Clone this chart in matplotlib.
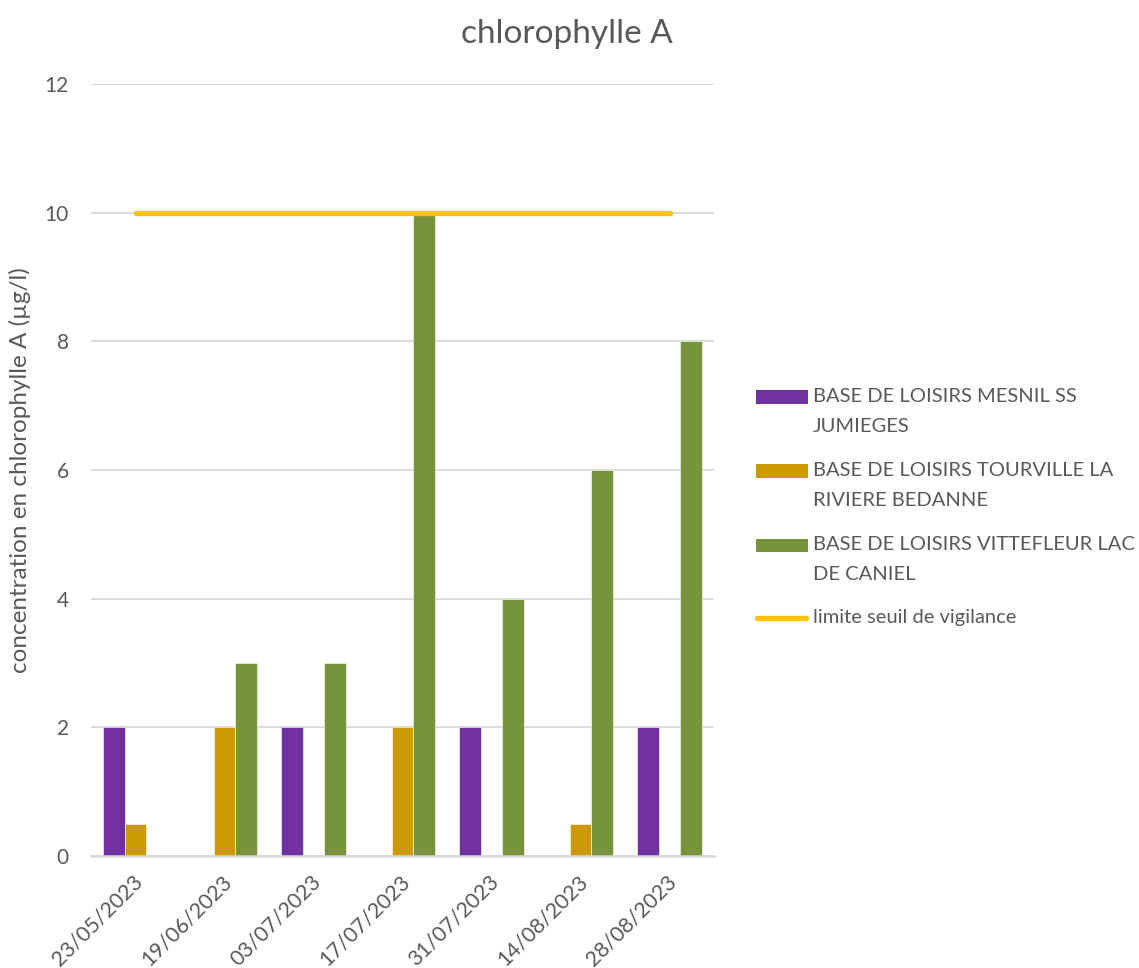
import numpy as np
import matplotlib
matplotlib.use("Agg")
from matplotlib import pyplot as plt
from matplotlib.lines import Line2D
from matplotlib.patches import Rectangle
from matplotlib.transforms import ScaledTranslation

plt.rcParams['font.family'] = ['Lato', 'DejaVu Sans']

# Sampling dates and chlorophyll A results (µg/l)
dates = ['23/05/2023', '19/06/2023', '03/07/2023', '17/07/2023',
         '31/07/2023', '14/08/2023', '28/08/2023']
mesnil = [2, 0, 2, 0, 2, 0, 2]
tourville = [0.5, 2, 0, 2, 0, 0.5, 0]
vittefleur = [0, 3, 3, 10, 4, 6, 8]
seuil = [10, 10, 10, 10, 10, 10, 10]

series_names = ['BASE DE LOISIRS MESNIL SS JUMIEGES',
                'BASE DE LOISIRS TOURVILLE LA RIVIERE BEDANNE',
                'BASE DE LOISIRS VITTEFLEUR LAC DE CANIEL']
legend_lines = [['BASE DE LOISIRS MESNIL SS', 'JUMIEGES'],
                ['BASE DE LOISIRS TOURVILLE LA', 'RIVIERE BEDANNE'],
                ['BASE DE LOISIRS VITTEFLEUR LAC', 'DE CANIEL'],
                ['limite seuil de vigilance']]
colors = ['#7030A0', '#CC9900', '#77933C']
line_color = '#FFC000'
text_color = '#595959'
grid_color = '#D9D9D9'

W, H = 1139, 968
fig = plt.figure(figsize=(W / 100, H / 100), dpi=100)
ax = fig.add_axes([0.0799, 0.1157, 0.547, 0.7975])

x = np.arange(len(dates))
w = 0.245
for j, vals in enumerate([mesnil, tourville, vittefleur]):
    ax.bar(x + (j - 1) * w, vals, width=w, color=colors[j],
           edgecolor='white', linewidth=0.4, zorder=3, label=series_names[j])

ax.plot(x, seuil, color=line_color, linewidth=3.8,
        solid_capstyle='round', zorder=4)

ax.set_xlim(-0.5, len(dates) - 0.5)
ax.set_ylim(0, 12)
ax.set_yticks(np.arange(0, 13, 2))
ax.yaxis.grid(True, color=grid_color, linewidth=1.3, zorder=0)
ax.set_axisbelow(True)

for s in ['top', 'right', 'left']:
    ax.spines[s].set_visible(False)
ax.spines['bottom'].set_color(grid_color)
ax.spines['bottom'].set_linewidth(1.8)
ax.spines['bottom'].set_zorder(5)

ax.set_xticks(x)
ax.set_xticklabels(dates, rotation=45, ha='right', rotation_mode='anchor')
ax.tick_params(axis='x', length=0, pad=11, labelsize=15.5, labelcolor=text_color)
ax.tick_params(axis='y', length=0, pad=16, labelsize=15, labelcolor=text_color)
shift = ScaledTranslation(-0.03, 0, fig.dpi_scale_trans)
for lab in ax.get_xticklabels():
    lab.set_transform(lab.get_transform() + shift)

ax.set_ylabel('concentration en chlorophylle A (µg/l)', fontsize=17.5,
              color=text_color, labelpad=10)
fig.text(0.498, 0.965, 'chlorophylle A', fontsize=24, color=text_color,
         ha='center', va='center')

# legend drawn by hand: swatch beside the first line of each entry
def fy(py):
    return 1 - py / H

entry_y = [397, 471, 545, 618]
for i, lines in enumerate(legend_lines):
    y0 = entry_y[i]
    if i < 3:
        fig.add_artist(Rectangle((756 / W, fy(y0 + 6.5)), 52 / W, 13 / H,
                                 transform=fig.transFigure,
                                 facecolor=colors[i], edgecolor='none'))
    else:
        fig.add_artist(Line2D([757 / W, 806 / W], [fy(y0), fy(y0)],
                              transform=fig.transFigure, color=line_color,
                              linewidth=3.8, solid_capstyle='round'))
    for k, txt in enumerate(lines):
        fig.text(813 / W, fy(y0 + 30 * k), txt, fontsize=14.5,
                 color=text_color, ha='left', va='center')

fig.savefig('out.png', dpi=100, facecolor='white')
